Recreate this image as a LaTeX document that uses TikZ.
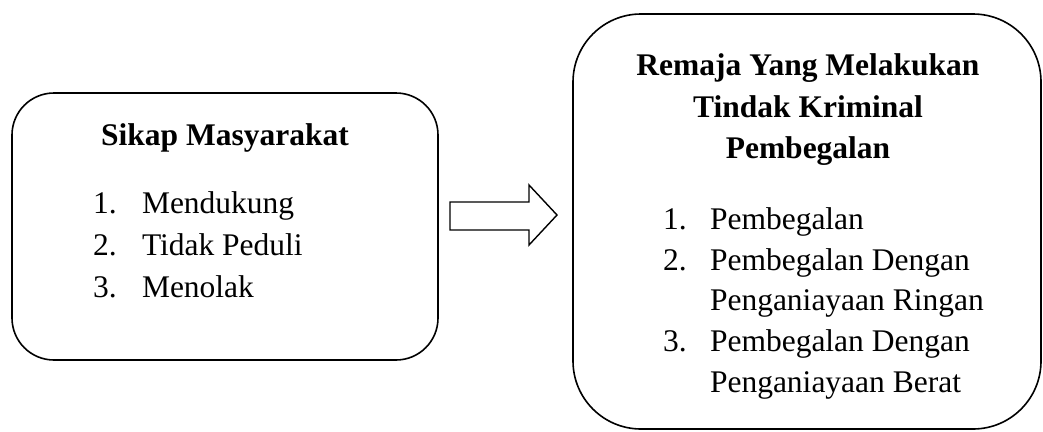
\documentclass[tikz,border=0pt]{standalone}
\usepackage{fontspec}
\setmainfont{Liberation Serif}
\begin{document}
\begin{tikzpicture}[x=1pt,y=-1pt,
  boxline/.style={draw=black,line width=1.6pt},
  txt/.style={inner sep=0pt,outer sep=0pt,font=\fontsize{31.5}{41}\selectfont},
  ttl/.style={txt,font=\fontsize{31.5}{41}\selectfont\bfseries,anchor=base},
  num/.style={txt,anchor=base west},
  item/.style={txt,anchor=base west}]
\useasboundingbox (0,0) rectangle (1043,431);
% left box
\draw[boxline,rounded corners=42pt] (12,93) rectangle (438,360);
\node[ttl] (lt) at (225,145) {Sikap Masyarakat};
\node[num] (ln1) at (93,213) {1.};
\node[item] (li1) at (142,213) {Mendukung};
\node[num] (ln2) at (93,255) {2.};
\node[item] (li2) at (142,255) {Tidak Peduli};
\node[num] (ln3) at (93,297) {3.};
\node[item] (li3) at (142,297) {Menolak};
% right box
\draw[boxline,rounded corners=68pt] (573,14) rectangle (1041,429);
\node[ttl] (rt1) at (808,75) {Remaja Yang Melakukan};
\node[ttl] (rt2) at (808,117) {Tindak Kriminal};
\node[ttl] (rt3) at (808,158) {Pembegalan};
\node[num] (rn1) at (663,229) {1.};
\node[item] (ri1) at (710,229) {Pembegalan};
\node[num] (rn2) at (663,270) {2.};
\node[item] (ri2) at (710,270) {Pembegalan Dengan};
\node[item] (ri2b) at (710,310) {Penganiayaan Ringan};
\node[num] (rn3) at (663,351) {3.};
\node[item] (ri3) at (710,351) {Pembegalan Dengan};
\node[item] (ri3b) at (710,392) {Penganiayaan Berat};
% block arrow
\draw[line width=1.4pt,line join=miter] (450,202) -- (529,202) -- (529,185) -- (557,215) -- (529,245) -- (529,230) -- (450,230) -- cycle;
\end{tikzpicture}
\end{document}
